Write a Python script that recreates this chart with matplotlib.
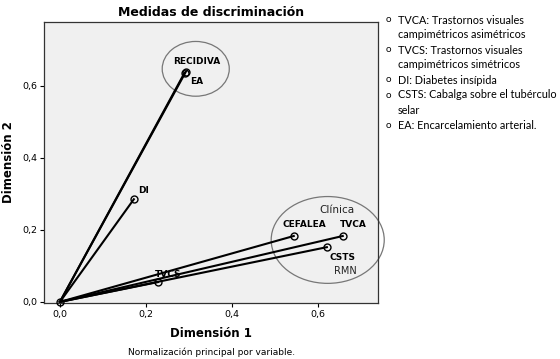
import matplotlib
matplotlib.use('Agg')
from matplotlib import pyplot as plt
from matplotlib.patches import Ellipse

# datos de las medidas de discriminacion
etiquetas = ['RECIDIVA', 'EA', 'DI', 'CEFALEA', 'TVCA', 'CSTS', 'TVCS']
dim1 = [0.293, 0.290, 0.172, 0.544, 0.658, 0.621, 0.228]
dim2 = [0.639, 0.636, 0.285, 0.183, 0.183, 0.152, 0.055]

ticks = [0.0, 0.2, 0.4, 0.6]
tick_labels = ['0,0', '0,2', '0,4', '0,6']

leyenda = [
    ('TVCA: Trastornos visuales', 'campimétricos asimétricos'),
    ('TVCS: Trastornos visuales', 'campimétricos simétricos'),
    ('DI: Diabetes insípida', None),
    ('CSTS: Cabalga sobre el tubérculo', 'selar'),
    ('EA: Encarcelamiento arterial.', None),
]


def main():
    fig = plt.figure(figsize=(5.6, 3.59), dpi=100)
    ax = fig.add_axes([44 / 560, 1 - 303 / 359, 334 / 560, 281 / 359])
    ax.set_facecolor('#f0f0f0')

    for x, y in zip(dim1, dim2):
        ax.plot([0, x], [0, y], color='black', lw=1.5, zorder=2)
    ax.plot(dim1, dim2, 'o', mfc='none', mec='black', ms=5, mew=1, zorder=3)
    ax.plot([0], [0], 'o', mfc='none', mec='black', ms=5, mew=1, zorder=3, clip_on=False)

    # etiquetas de los puntos (desplazamiento en puntos)
    offs = {'RECIDIVA': (8, 4, 'center', 'bottom'),
            'EA': (4, -3, 'left', 'top'),
            'DI': (3, 3, 'left', 'bottom'),
            'CEFALEA': (8, 5, 'center', 'bottom'),
            'TVCA': (-2, 5, 'left', 'bottom'),
            'CSTS': (2, -4, 'left', 'top'),
            'TVCS': (7, 2, 'center', 'bottom')}
    for lab, x, y in zip(etiquetas, dim1, dim2):
        dx, dy, ha, va = offs[lab]
        ax.annotate(lab, (x, y), xytext=(dx, dy), textcoords='offset points',
                    ha=ha, va=va, fontsize=6.5, fontweight='bold')

    ax.add_patch(Ellipse((0.316, 0.647), 0.156, 0.152, fill=False,
                         ec='#777777', lw=0.9, clip_on=False))
    ax.add_patch(Ellipse((0.623, 0.172), 0.263, 0.241, fill=False,
                         ec='#777777', lw=0.9, clip_on=False))
    ax.text(0.645, 0.255, 'Clínica', fontsize=7.5, ha='center', va='center', color='#222222')
    ax.text(0.665, 0.085, 'RMN', fontsize=7, ha='center', va='center', color='#222222')

    ax.set_xlim(-0.037, 0.74)
    ax.set_ylim(-0.003, 0.777)
    ax.set_xticks(ticks)
    ax.set_xticklabels(tick_labels, fontsize=6.8)
    ax.set_yticks(ticks)
    ax.set_yticklabels(tick_labels, fontsize=6.8)
    ax.tick_params(length=3, width=0.8, pad=2)
    for s in ax.spines.values():
        s.set_color('#333333')
        s.set_linewidth(0.9)

    ax.set_title('Medidas de discriminación', fontsize=9, fontweight='bold', pad=4)
    ax.set_xlabel('Dimensión 1', fontsize=8.5, fontweight='bold', labelpad=6)
    ax.set_ylabel('Dimensión 2', fontsize=8.5, fontweight='bold', labelpad=5)
    fig.text(212 / 560, 1 - 352 / 359, 'Normalización principal por variable.',
             fontsize=6.5, ha='center', va='center')

    # lista de abreviaturas
    y = 20
    for l1, l2 in leyenda:
        fig.text(386 / 560, 1 - y / 359, 'o', fontsize=7, ha='left', va='center', family='Lato')
        fig.text(398 / 560, 1 - y / 359, l1, fontsize=7.8, ha='left', va='center', family='Lato')
        y += 15
        if l2:
            fig.text(398 / 560, 1 - y / 359, l2, fontsize=7.8, ha='left', va='center', family='Lato')
            y += 15

    fig.savefig('out.png', dpi=100)


if __name__ == '__main__':
    main()
